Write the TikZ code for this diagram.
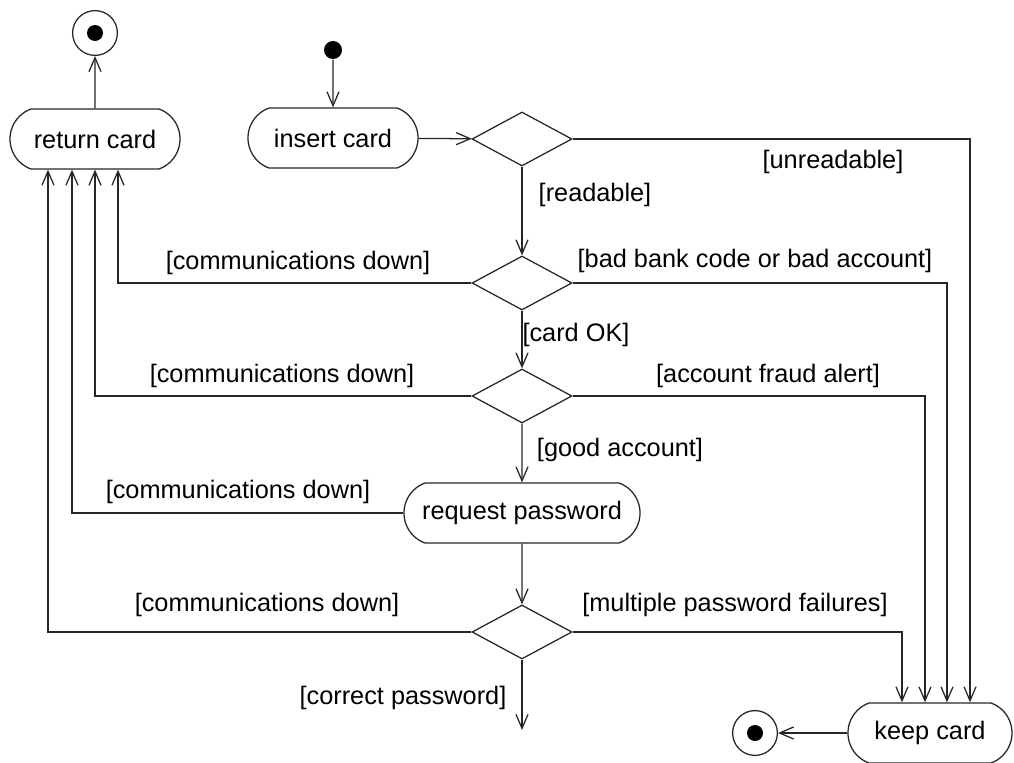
\documentclass[tikz,border=0pt]{standalone}
\usepackage{fontspec}
\setmainfont{Liberation Sans}
\usetikzlibrary{calc,arrows.meta,shapes.geometric,shapes.misc}

\tikzset{
    action/.style={draw, rounded rectangle, rounded rectangle arc length=140,
        minimum width=4.25cm, minimum height=1.5cm, inner sep=0pt},
    choice/.style={draw, diamond, minimum width=2.5cm, minimum height=1.35cm, inner sep=0pt},
    startdot/.style={circle, fill, minimum size=0.45cm, inner sep=0pt},
    enddot/.style={circle, draw, minimum size=1.12cm, inner sep=0pt,
        path picture={\fill (path picture bounding box.center) circle (0.2cm);}},
    flow/.style={-{Straight Barb[length=3.5mm,width=3mm]}},
}

\begin{document}
\begin{tikzpicture}[x=0.025cm, y=-0.025cm, line width=0.9pt, draw=black!85,
        font=\fontsize{18}{21}\selectfont]
    \useasboundingbox (0,0) rectangle (1014,763);
    % activities and decisions
    \node[enddot] (top end) at (95,33) {};
    \node[action] (return) at (95,139) {return card};
    \node[startdot] (start) at (333,50) {};
    \node[action] (insert) at (333,138) {insert card};
    \node[choice] (read) at (522,139) {};
    \node[choice] (bank) at (522,283) {};
    \node[choice] (fraud) at (522,396) {};
    \node[action, minimum width=5.9cm] (request) at (522,513) {request password};
    \node[choice] (check) at (522,632) {};
    \node[action, minimum width=4.1cm] (keep) at (930,733) {keep card};
    \node[enddot] (bottom end) at (755,733) {};
    \coordinate (next) at (522,730);

    % main flow
    \draw[flow] (start) -- (insert);
    \draw[flow] (insert) -- (read);
    \draw[flow] (read) -- (bank);
    \draw[flow] (bank) -- (fraud);
    \draw[flow] (fraud) -- (request);
    \draw[flow] (request) -- (check);
    \draw[flow] (check) -- (next);
    \draw[flow] (return) -- (top end);
    \draw[flow] (keep) -- (bottom end);

    % back to return card
    \draw[flow] (bank.west) -| ([xshift=0.575cm]return.south);
    \draw[flow] (fraud.west) -| (return.south);
    \draw[flow] (request.west) -| ([xshift=-0.575cm]return.south);
    \draw[flow] (check.west) -| ([xshift=-1.175cm]return.south);

    % over to keep card
    \draw[flow] (read.east) -| ([xshift=1cm]keep.north);
    \draw[flow] (bank.east) -| ([xshift=0.425cm]keep.north);
    \draw[flow] (fraud.east) -| ([xshift=-0.125cm]keep.north);
    \draw[flow] (check.east) -| ([xshift=-0.7cm]keep.north);

    % guards
    \node (unreadable) at (833,162) {[unreadable]};
    \node (readable) at (595,195) {[readable]};
    \node (comm a) at (298,263) {[communications down]};
    \node (badbank) at (755,261) {[bad bank code or bad account]};
    \node (cardok) at (576,335) {[card OK]};
    \node (comm b) at (282,376) {[communications down]};
    \node (alert) at (768,376) {[account fraud alert]};
    \node (goodacc) at (620,450) {[good account]};
    \node (comm c) at (238,492) {[communications down]};
    \node (comm d) at (267,605) {[communications down]};
    \node (failures) at (735,605) {[multiple password failures]};
    \node (correct) at (403,698) {[correct password]};
\end{tikzpicture}
\end{document}
